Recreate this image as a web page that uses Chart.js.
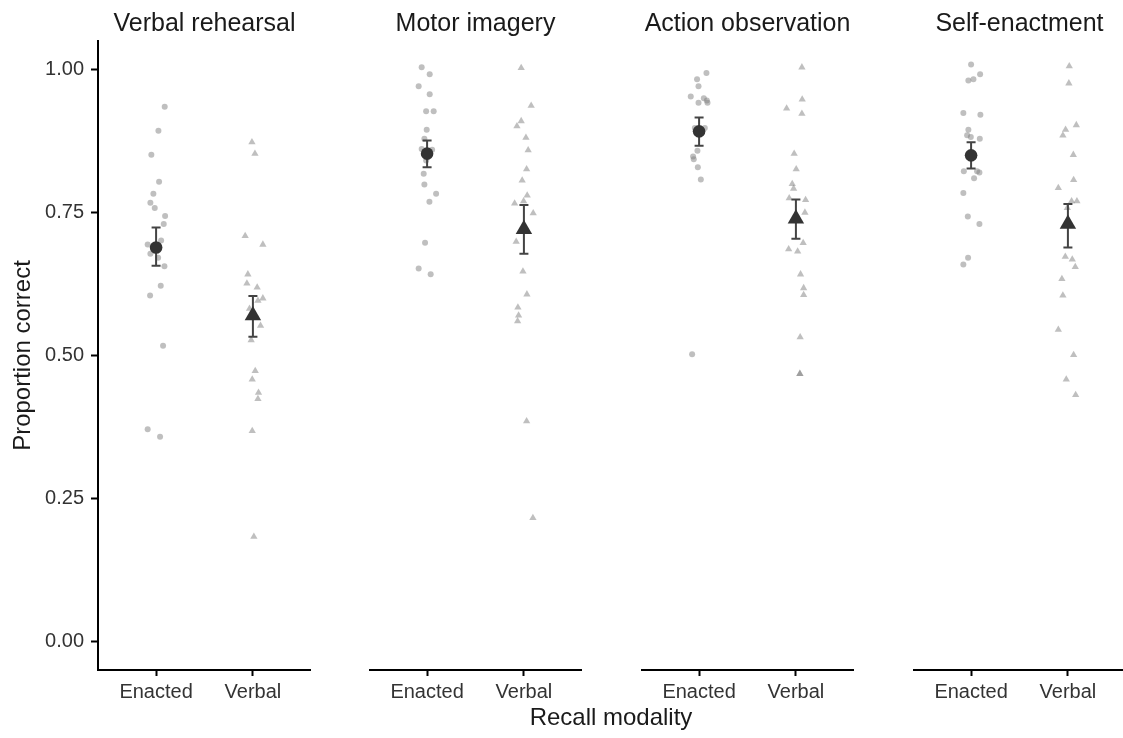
<!DOCTYPE html>
<html><head><meta charset="utf-8">
<script src="https://cdn.jsdelivr.net/npm/chart.js@4.4.0/dist/chart.umd.min.js"></script>
<style>
html,body{margin:0;padding:0;background:#fff;overflow:hidden;width:1123px;height:738px;}
#wrap{position:relative;width:1123px;height:738px;overflow:hidden;background:#fff;}
canvas{position:absolute;top:0;}
#xtitle{position:absolute;left:411px;width:400px;top:703px;text-align:center;font-size:24px;font-family:"Liberation Sans",Arial,sans-serif;color:#1a1a1a;line-height:28px;}
</style></head><body>
<div id="wrap">
<canvas id="p0" width="311" height="738" style="left:0px;width:311px;height:738px"></canvas>
<canvas id="p1" width="213" height="738" style="left:369px;width:213px;height:738px"></canvas>
<canvas id="p2" width="213" height="738" style="left:641px;width:213px;height:738px"></canvas>
<canvas id="p3" width="213" height="738" style="left:913px;width:213px;height:738px"></canvas>
<div id="xtitle">Recall modality</div>
</div>
<script>
// ---- data ----
const panels = ["Verbal rehearsal", "Motor imagery", "Action observation", "Self-enactment"];
const categories = ["Enacted", "Verbal"];
const yTicks = [0, 0.25, 0.5, 0.75, 1];

// Verbal rehearsal
const vrEnacted = [0.935,0.893,0.851,0.804,0.783,0.767,0.758,0.744,0.730,0.701,0.694,0.678,0.671,0.656,0.622,0.605,0.517,0.371,0.358];
const vrEnactedJitter = [0.089,0.024,-0.049,0.031,-0.028,-0.059,-0.014,0.093,0.079,0.052,-0.087,-0.059,0.021,0.086,0.048,-0.062,0.072,-0.087,0.041];
const vrVerbal = [0.873,0.853,0.709,0.694,0.642,0.626,0.619,0.600,0.596,0.582,0.552,0.527,0.473,0.458,0.435,0.424,0.368,0.183];
const vrVerbalJitter = [-0.010,0.021,-0.080,0.103,-0.052,-0.062,0.044,0.103,0.052,-0.035,0.079,-0.018,0.024,-0.007,0.058,0.052,-0.007,0.010];

// Motor imagery
const miEnacted = [1.004,0.992,0.971,0.957,0.927,0.927,0.895,0.879,0.861,0.860,0.841,0.818,0.799,0.783,0.769,0.697,0.652,0.642];
const miEnactedJitter = [-0.056,0.027,-0.087,0.027,-0.010,0.068,-0.004,-0.028,-0.056,0.052,-0.010,-0.035,-0.028,0.093,0.024,-0.021,-0.087,0.037];
const miVerbal = [1.003,0.937,0.910,0.901,0.881,0.859,0.826,0.806,0.780,0.770,0.766,0.749,0.699,0.647,0.607,0.584,0.570,0.560,0.385,0.216];
const miVerbalJitter = [-0.028,0.075,-0.028,-0.072,0.021,0.044,0.028,-0.018,0.034,-0.003,-0.096,0.096,-0.080,-0.010,0.031,-0.062,-0.055,-0.065,0.028,0.093];

// Action observation
const aoEnacted = [0.994,0.983,0.971,0.953,0.950,0.942,0.942,0.946,0.898,0.898,0.858,0.848,0.843,0.829,0.808,0.502];
const aoEnactedJitter = [0.076,-0.021,-0.006,-0.086,0.049,-0.006,0.087,0.080,-0.044,0.059,-0.017,-0.062,-0.055,-0.013,0.018,-0.072];
const aoVerbal = [1.004,0.948,0.932,0.923,0.853,0.826,0.800,0.792,0.775,0.772,0.750,0.697,0.686,0.682,0.642,0.618,0.606,0.532,0.468,0.468];
const aoVerbalJitter = [0.062,0.065,-0.096,0.062,-0.018,0.003,-0.038,-0.024,-0.069,0.100,0.093,0.075,-0.075,0.018,0.048,0.080,0.080,0.044,0.041,0.041];

// Self-enactment
const seEnacted = [1.009,0.992,0.983,0.981,0.924,0.921,0.895,0.885,0.882,0.879,0.822,0.822,0.820,0.810,0.784,0.743,0.730,0.671,0.659];
const seEnactedJitter = [0,0.093,0.024,-0.028,-0.080,0.096,-0.028,-0.041,-0.003,0.090,-0.075,0.062,0.086,0.031,-0.080,-0.034,0.086,-0.031,-0.080];
const seVerbal = [1.006,0.976,0.903,0.895,0.885,0.851,0.807,0.793,0.770,0.770,0.758,0.673,0.668,0.655,0.634,0.605,0.545,0.501,0.458,0.431];
const seVerbalJitter = [0.014,0.010,0.087,-0.024,-0.052,0.056,0.059,-0.099,0.038,0.093,-0.006,-0.027,0.045,0.076,-0.062,-0.052,-0.099,0.059,-0.017,0.080];

// means and error bars per panel
const meanEnacted = [0.689, 0.853, 0.892, 0.850];
const lowEnacted  = [0.657, 0.829, 0.867, 0.827];
const highEnacted = [0.724, 0.876, 0.916, 0.873];
const meanVerbal  = [0.570, 0.721, 0.739, 0.730];
const lowVerbal   = [0.533, 0.678, 0.704, 0.689];
const highVerbal  = [0.604, 0.763, 0.773, 0.765];

// ---- build ----
const enactedSets = [vrEnacted, miEnacted, aoEnacted, seEnacted];
const enactedJit  = [vrEnactedJitter, miEnactedJitter, aoEnactedJitter, seEnactedJitter];
const verbalSets  = [vrVerbal, miVerbal, aoVerbal, seVerbal];
const verbalJit   = [vrVerbalJitter, miVerbalJitter, aoVerbalJitter, seVerbalJitter];

Chart.defaults.font.family = '"Liberation Sans", Arial, Helvetica, sans-serif';
Chart.defaults.color = '#333';

function errorBarPlugin(bars) {
  return {
    id: 'errorBars',
    beforeDatasetDraw(chart, args) {
      if (args.index !== 1) return;
      const xs = chart.scales.x, ys = chart.scales.y, ctx = chart.ctx;
      ctx.save();
      ctx.strokeStyle = '#444';
      ctx.lineWidth = 2;
      bars.forEach(b => {
        const px = xs.getPixelForValue(b.x);
        const top = ys.getPixelForValue(b.hi);
        const bot = ys.getPixelForValue(b.lo);
        const hw = 4.5;
        ctx.beginPath();
        ctx.moveTo(px, top); ctx.lineTo(px, bot);
        ctx.moveTo(px - hw, top); ctx.lineTo(px + hw, top);
        ctx.moveTo(px - hw, bot); ctx.lineTo(px + hw, bot);
        ctx.stroke();
      });
      ctx.restore();
    }
  };
}

function makeChart(idx) {
  const showY = idx === 0;
  const ptColor = 'rgba(128,128,128,0.5)';
  const meanColor = '#333333';
  const datasets = [
    { data: [{x: 1, y: meanEnacted[idx]}], pointStyle: 'circle', pointRadius: 6.3,
      pointBackgroundColor: meanColor, pointBorderWidth: 0, pointBorderColor: 'rgba(0,0,0,0)' },
    { data: [{x: 2, y: meanVerbal[idx]}], pointStyle: 'triangle', pointRadius: 9.5,
      pointBackgroundColor: meanColor, pointBorderWidth: 0, pointBorderColor: 'rgba(0,0,0,0)' },
    { data: enactedSets[idx].map((v, i) => ({x: 1 + enactedJit[idx][i], y: v})), pointStyle: 'circle', pointRadius: 3,
      pointBackgroundColor: ptColor, pointBorderWidth: 0, pointBorderColor: 'rgba(0,0,0,0)' },
    { data: verbalSets[idx].map((v, i) => ({x: 2 + verbalJit[idx][i], y: v})), pointStyle: 'triangle', pointRadius: 4.2,
      pointBackgroundColor: ptColor, pointBorderWidth: 0, pointBorderColor: 'rgba(0,0,0,0)' }
  ];
  const bars = [
    {x: 1, lo: lowEnacted[idx], hi: highEnacted[idx]},
    {x: 2, lo: lowVerbal[idx], hi: highVerbal[idx]}
  ];
  return new Chart(document.getElementById('p' + idx), {
    type: 'scatter',
    data: { datasets },
    plugins: [errorBarPlugin(bars)],
    options: {
      responsive: false,
      animation: false,
      events: [],
      layout: { padding: 0, autoPadding: false },
      plugins: {
        legend: { display: false },
        tooltip: { enabled: false },
        title: { display: true, text: panels[idx], fullSize: false, color: '#1a1a1a',
                 font: { size: 25, weight: 'normal' }, padding: { top: 9, bottom: 2 } }
      },
      scales: {
        x: {
          type: 'linear', min: 0.4, max: 2.6,
          afterBuildTicks: s => { s.ticks = [1, 2].map(v => ({value: v})); },
          afterFit: s => { s.height = 68; },
          ticks: { callback: v => categories[Math.round(v) - 1], font: { size: 20 }, color: '#333',
                   padding: 4, maxRotation: 0, minRotation: 0, autoSkip: false },
          grid: { drawOnChartArea: false, drawTicks: true, tickLength: 6, tickColor: '#000', tickWidth: 2, color: '#000' },
          border: { display: true, color: '#000', width: 2 }
        },
        y: {
          type: 'linear', min: -0.05, max: 1.05, display: showY,
          afterBuildTicks: s => { s.ticks = yTicks.map(v => ({value: v})); },
          afterFit: s => { if (showY) s.width = 98; },
          ticks: { callback: v => Number(v).toFixed(2), font: { size: 20 }, color: '#333', padding: 7 },
          grid: { drawOnChartArea: false, drawTicks: true, tickLength: 7, tickColor: '#000', tickWidth: 2, color: '#000' },
          border: { display: true, color: '#000', width: 2 },
          title: { display: true, text: 'Proportion correct', color: '#1a1a1a', font: { size: 24 }, padding: { top: 9, bottom: 0 } }
        }
      }
    }
  });
}

[0, 1, 2, 3].forEach(makeChart);
</script>
</body></html>
